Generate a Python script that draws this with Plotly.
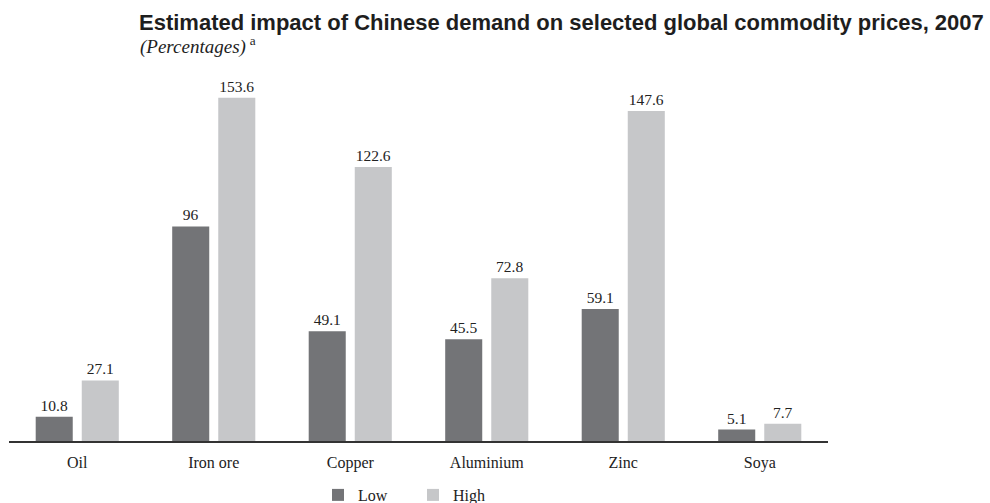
import plotly.graph_objects as go

categories = ["Oil", "Iron ore", "Copper", "Aluminium", "Zinc", "Soya"]
low_values = [10.8, 96, 49.1, 45.5, 59.1, 5.1]
high_values = [27.1, 153.6, 122.6, 72.8, 147.6, 7.7]

low_color = "#737477"
high_color = "#c6c7c9"
serif = "Liberation Serif, Times New Roman, serif"
sans = "Liberation Sans, Arial, sans-serif"

W, H = 990, 503
m_l, m_r, m_t, m_b = 9, 162, 60, 62
plot_h = H - m_t - m_b
px_per_unit = 2.235
y_max = plot_h / px_per_unit


def px_x(px):
    return (px - m_l) / (W - m_l - m_r)


def px_y(py):
    return (H - m_b - py) / plot_h


fig = go.Figure()
for name, vals, color in [("Low", low_values, low_color), ("High", high_values, high_color)]:
    fig.add_trace(go.Bar(
        x=categories, y=vals, name=name,
        marker=dict(color=color, line=dict(width=0)),
        text=[f"{v:g}" for v in vals],
        textposition="outside",
        textfont=dict(family=serif, size=15.5, color="#222222"),
        cliponaxis=False,
    ))

fig.add_annotation(
    x=px_x(137), y=px_y(22), xref="paper", yref="paper",
    xanchor="left", yanchor="middle", showarrow=False,
    text="<b>Estimated impact of Chinese demand on selected global commodity prices, 2007</b>",
    font=dict(family=sans, size=22, color="#1e1e1e"),
)
fig.add_annotation(
    x=px_x(138), y=px_y(46), xref="paper", yref="paper",
    xanchor="left", yanchor="middle", showarrow=False,
    text="<i>(Percentages)</i>\u2009<sup>a</sup>",
    font=dict(family=serif, size=19, color="#1e1e1e"),
)

fig.update_layout(
    width=W, height=H,
    margin=dict(l=m_l, r=m_r, t=m_t, b=m_b, autoexpand=False),
    paper_bgcolor="white", plot_bgcolor="white",
    barmode="group", bargap=0.325, bargroupgap=0.196,
    showlegend=True,
    legend=dict(
        orientation="h", x=px_x(318), y=px_y(478), xanchor="left", yanchor="top",
        font=dict(family=serif, size=16, color="#222222"),
        traceorder="normal", entrywidth=50, bgcolor="rgba(0,0,0,0)",
    ),
    xaxis=dict(
        showline=True, linecolor="#333333", linewidth=1.5,
        ticks="", showgrid=False, zeroline=False,
        tickfont=dict(family=serif, size=16, color="#222222"),
        ticklabelstandoff=6,
    ),
    yaxis=dict(
        range=[0, y_max], visible=False, showgrid=False, zeroline=False,
    ),
)

fig.write_html("out.html")
